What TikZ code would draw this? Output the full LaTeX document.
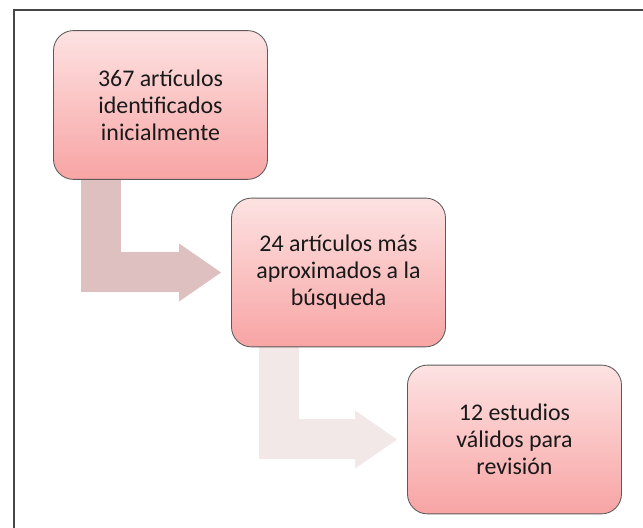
\documentclass[tikz,border=0pt]{standalone}
\usepackage{fontspec}
\setmainfont{Carlito}
\usetikzlibrary{arrows.meta, backgrounds}
\definecolor{box-top}{RGB}{253,226,226}
\definecolor{box-bottom}{RGB}{248,164,164}
\definecolor{box-edge}{RGB}{90,90,90}
\definecolor{flow-dark}{RGB}{223,192,192}
\definecolor{flow-light}{RGB}{242,232,232}
\definecolor{frame-gray}{RGB}{70,70,70}

\begin{document}
\begin{tikzpicture}[
    stage/.style={draw=box-edge, line width=0.6pt, rounded corners=0.5cm,
                  top color=box-top, bottom color=box-bottom,
                  minimum width=5.35cm, minimum height=3.72cm, align=center,
                  font=\fontsize{17}{19.2}\selectfont, text=black!90},
    flowarrow/.style={line width=1cm, line join=miter, shorten >=0.25cm,
                 -{Triangle[length=1.05cm, width=1.45cm, line width=0pt]}},
]
    \useasboundingbox (0,0) rectangle (16.075,13.2);
    \draw[frame-gray, line width=1.4pt] (0.35,0) |- (16.075,12.95);

    \node[stage] (found)  at (4.0125, 10.575) {367 artículos\\identificados\\inicialmente};
    \node[stage] (close)  at (8.4625, 6.3875) {24 artículos más\\aproximados a la\\búsqueda};
    \node[stage] (valid)  at (12.8625, 2.2125) {12 estudios\\válidos para\\revisión};

    \begin{scope}[on background layer]
        \draw[flowarrow, flow-dark]  ([xshift=-1.5cm]found.south) |- (close.west);
        \draw[flowarrow, flow-light] ([xshift=-1.5cm]close.south) |- (valid.west);
    \end{scope}
\end{tikzpicture}
\end{document}
